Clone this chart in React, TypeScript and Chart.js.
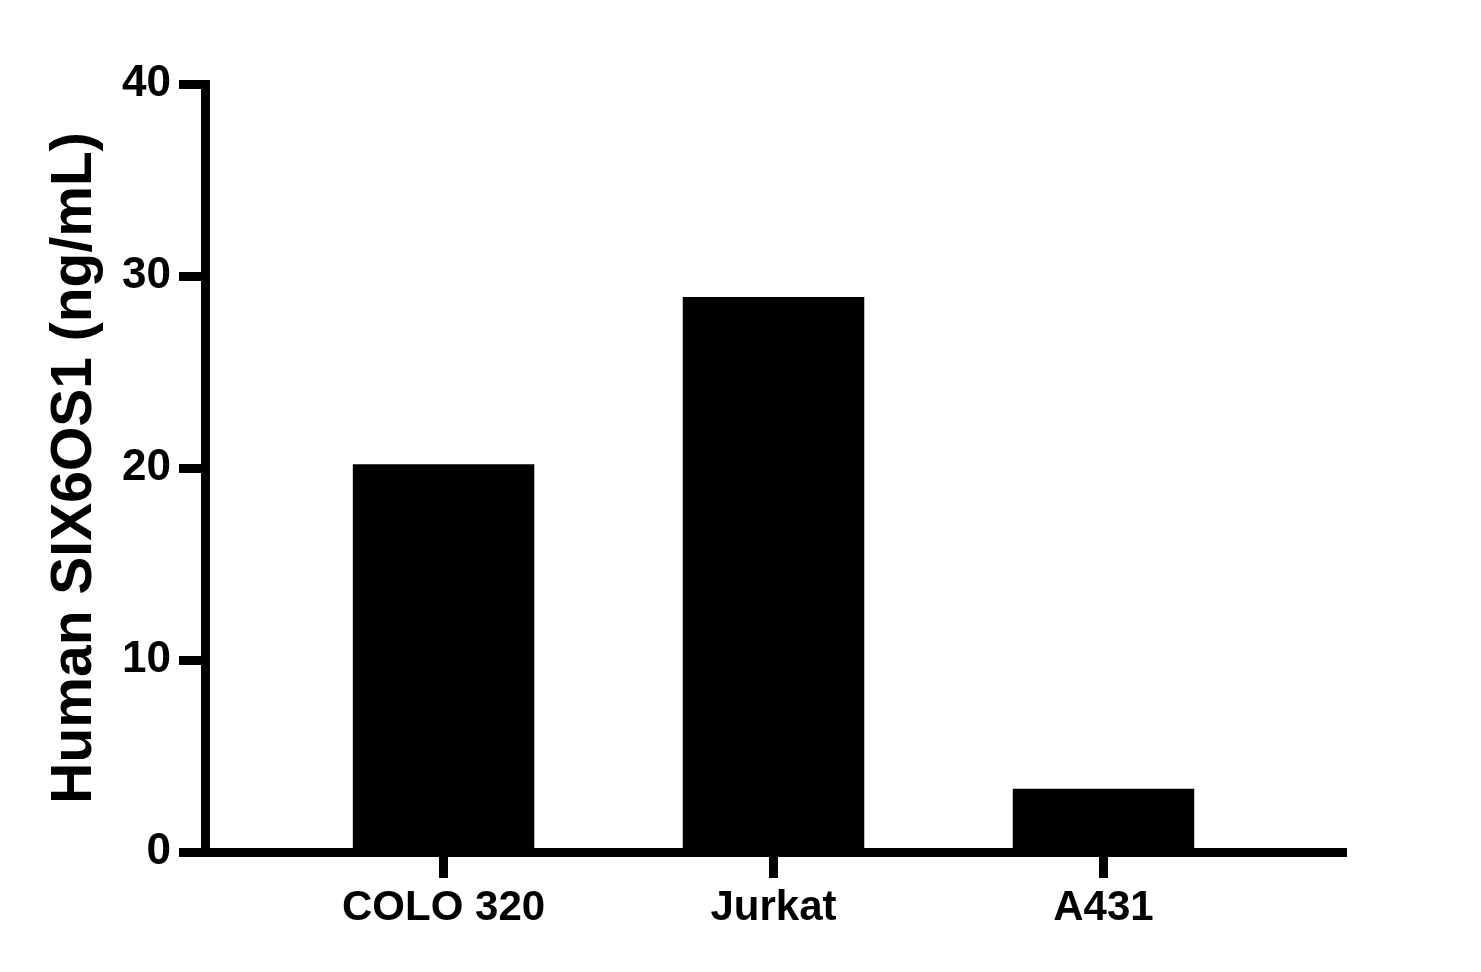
import { useEffect, useRef } from 'react';
import { Chart, registerables } from 'chart.js';

Chart.register(...registerables);

// Datos
const categories = ['COLO 320', 'Jurkat', 'A431'];
const values = [20.2, 28.9, 3.3];
const yTicks = [0, 10, 20, 30, 40];
const yTitle = 'Human SIX6OS1 (ng/mL)';

const FONT = '"Liberation Sans", Arial, sans-serif';

export default function App() {
  const canvasRef = useRef<HTMLCanvasElement>(null);

  useEffect(() => {
    if (!canvasRef.current) return;

    const chart = new Chart(canvasRef.current, {
      type: 'bar',
      data: {
        datasets: [
          {
            data: categories.map((_, i) => ({ x: i + 1, y: values[i] })),
            backgroundColor: '#000000',
            borderWidth: 0,
            barPercentage: 0.55,
            categoryPercentage: 1
          }
        ]
      },
      options: {
        responsive: false,
        animation: false,
        events: [],
        layout: {
          padding: { top: 84, right: 135, left: 0, bottom: 0 }
        },
        plugins: {
          legend: { display: false },
          tooltip: { enabled: false }
        },
        scales: {
          x: {
            type: 'linear',
            offset: false,
            min: 0.277,
            max: 3.735,
            afterBuildTicks: (scale: any) => {
              scale.ticks = categories.map((_, i) => ({ value: i + 1 }));
            },
            afterFit: (scale: any) => {
              scale.height = 120;
            },
            grid: {
              offset: false,
              drawOnChartArea: false,
              drawTicks: true,
              tickLength: 26,
              tickWidth: 9,
              color: '#000000'
            },
            border: { display: true, color: '#000000', width: 9 },
            ticks: {
              autoSkip: false,
              maxRotation: 0,
              padding: 5,
              color: '#000000',
              font: { family: FONT, size: 42, weight: 'bold' },
              callback: (v: any) => categories[Number(v) - 1] ?? ''
            }
          },
          y: {
            type: 'linear',
            min: 0,
            max: 40,
            afterBuildTicks: (scale: any) => {
              scale.ticks = yTicks.map((v) => ({ value: v }));
            },
            afterFit: (scale: any) => {
              scale.width = 205;
            },
            grid: {
              drawOnChartArea: false,
              drawTicks: true,
              tickLength: 26,
              tickWidth: 9,
              color: '#000000'
            },
            border: { display: true, color: '#000000', width: 9 },
            ticks: {
              padding: 8,
              color: '#000000',
              font: { family: FONT, size: 44, weight: 'bold' }
            },
            title: {
              display: true,
              text: yTitle,
              color: '#000000',
              padding: { top: 41, bottom: 0 },
              font: { family: FONT, size: 57, weight: 'bold' }
            }
          }
        }
      }
    });

    return () => {
      chart.destroy();
    };
  }, []);

  return (
    <div style={{ position: 'absolute', left: 0, top: 0, width: 1481, height: 972, background: '#ffffff' }}>
      <canvas ref={canvasRef} width={1481} height={972} style={{ width: 1481, height: 972 }}></canvas>
    </div>
  );
}
